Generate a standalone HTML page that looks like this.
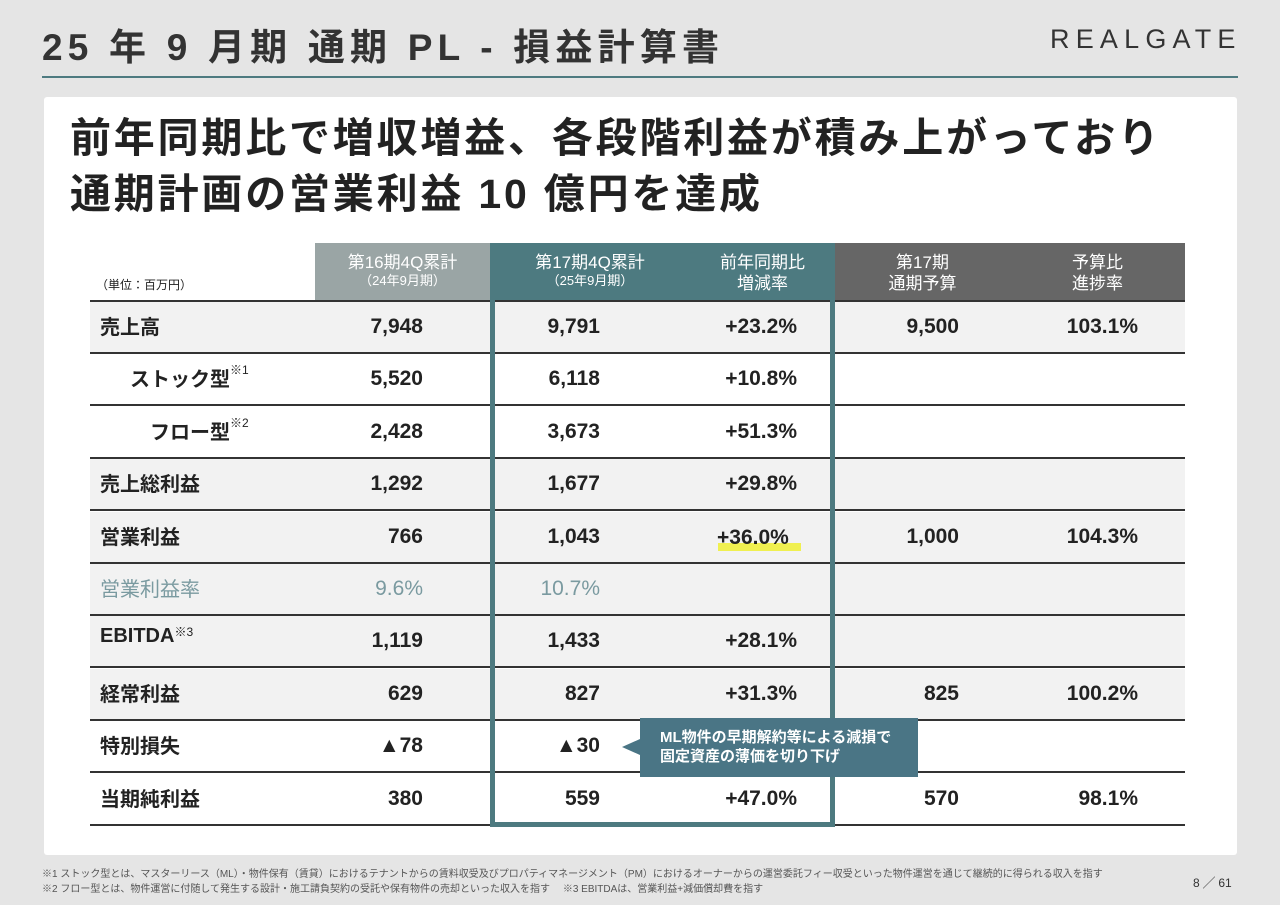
<!DOCTYPE html>
<html><head><meta charset="utf-8">
<style>
*{margin:0;padding:0;box-sizing:border-box}
body{width:1280px;height:905px;background:#e5e5e5;font-family:"Liberation Sans","Noto Sans CJK JP",sans-serif;color:#222;position:relative;overflow:hidden}
.abs{position:absolute}
.row{position:absolute;left:90px;width:1095px;height:52px;border-bottom:2px solid #333}
.gray{background:#f2f2f2}
.c{position:absolute;font-size:21px;top:13px;white-space:nowrap;font-weight:bold}
.lbl{left:10px;font-weight:bold;font-size:20px;top:9px}
.n1{right:762px;text-align:right}
.n2{right:585px}
.n3{right:388px}
.n4{right:226px}
.n5{right:47px}
sup{font-size:12px;vertical-align:top;position:relative;top:-2px;font-weight:normal}
.hd{position:absolute;top:243px;height:58px;color:#fff;text-align:center;font-size:17px;line-height:21px;padding-top:9px}
.hd small{font-size:13px;display:block;line-height:16px}
</style></head><body>
<div class="abs" style="left:42px;top:17px;font-size:37px;font-weight:bold;letter-spacing:5.2px;color:#333">25 年 9 月期 通期 PL - 損益計算書</div>
<div class="abs" style="left:1050px;top:24px;font-size:27px;letter-spacing:6.2px;color:#333">REALGATE</div>
<div class="abs" style="left:42px;top:76px;width:1196px;height:2px;background:#4d7a80"></div>
<div class="abs" style="left:44px;top:97px;width:1193px;height:758px;background:#fff;border-radius:3px"></div>
<div class="abs" style="left:70px;top:110px;font-size:41px;font-weight:bold;line-height:56px;color:#222;letter-spacing:2.8px;white-space:nowrap">前年同期比で増収増益、各段階利益が積み上がっており<br>通期計画の営業利益 10 億円を達成</div>

<div class="abs" style="left:96px;top:276px;font-size:12px">（単位：百万円）</div>
<div class="hd" style="left:315px;width:175px;background:#9aa5a5">第16期4Q累計<small>（24年9月期）</small></div>
<div class="hd" style="left:490px;width:200px;background:#4d7a80">第17期4Q累計<small>（25年9月期）</small></div>
<div class="hd" style="left:690px;width:145px;background:#4d7a80">前年同期比<br>増減率</div>
<div class="hd" style="left:835px;width:175px;background:#666">第17期<br>通期予算</div>
<div class="hd" style="left:1010px;width:175px;background:#666">予算比<br>進捗率</div>
<div class="abs" style="left:90px;top:300px;width:1095px;height:2px;background:#333"></div>

<div id="rows"></div>

<div class="abs" style="left:490px;top:300px;width:345px;height:527px;border:5px solid #4d7a80;border-top:none"></div>
<div class="abs" style="left:718px;top:543px;width:83px;height:8px;background:#f0f050"></div>
<div class="abs" style="left:717px;top:526px;font-size:21px;font-weight:bold">+36.0%</div>

<div class="abs" style="left:640px;top:718px;width:278px;height:59px;background:#4a7585;color:#fff;font-size:15px;line-height:19px;padding:10px 0 0 20px;font-weight:bold">ML物件の早期解約等による減損で<br>固定資産の薄価を切り下げ</div>
<div class="abs" style="left:622px;top:739px;width:0;height:0;border-top:8px solid transparent;border-bottom:8px solid transparent;border-right:18px solid #4a7585"></div>

<div class="abs" style="left:42px;top:867px;font-size:10px;line-height:15px;color:#555">※1 ストック型とは、マスターリース（ML）・物件保有（賃貸）におけるテナントからの賃料収受及びプロパティマネージメント（PM）におけるオーナーからの運営委託フィー収受といった物件運営を通じて継続的に得られる収入を指す<br>※2 フロー型とは、物件運営に付随して発生する設計・施工請負契約の受託や保有物件の売却といった収入を指す　 ※3 EBITDAは、営業利益+減価償却費を指す</div>
<div class="abs" style="left:1193px;top:874px;font-size:12px;color:#333">8 ╱ 61</div>

<script>
const labels=["売上高","ストック型","フロー型","売上総利益","営業利益","営業利益率","EBITDA","経常利益","特別損失","当期純利益"];
const sups=["","※1","※2","","","","※3","","",""];
const indent=[0,30,50,0,0,0,0,0,0,0];
const fy16=["7,948","5,520","2,428","1,292","766","9.6%","1,119","629","▲78","380"];
const fy17=["9,791","6,118","3,673","1,677","1,043","10.7%","1,433","827","▲30","559"];
const yoy=["+23.2%","+10.8%","+51.3%","+29.8%","","","+28.1%","+31.3%","","+47.0%"];
const budget=["9,500","","","","1,000","","","825","","570"];
const progress=["103.1%","","","","104.3%","","","100.2%","","98.1%"];
const grayRows=[1,0,0,1,1,1,1,1,0,0];
const host=document.getElementById('rows');
labels.forEach((l,i)=>{
 const r=document.createElement('div');
 r.className='row'+(grayRows[i]?' gray':'');
 r.style.top=(302+i*52.4)+'px';
 
 
 const col=i===5?'color:#7a9aa0;font-weight:normal;':'';
 r.innerHTML=`<div class="c lbl" style="left:${10+indent[i]}px;${i===5?'color:#7a9aa0;font-weight:normal':''}">${l}${sups[i]?'<sup>'+sups[i]+'</sup>':''}</div>
<div class="c n1" style="${col}">${fy16[i]}</div>
<div class="c n2" style="${col}">${fy17[i]}</div>
<div class="c n3">${yoy[i]}</div>
<div class="c n4">${budget[i]}</div>
<div class="c n5">${progress[i]}</div>`;
 host.appendChild(r);
});
</script>
</body></html>
